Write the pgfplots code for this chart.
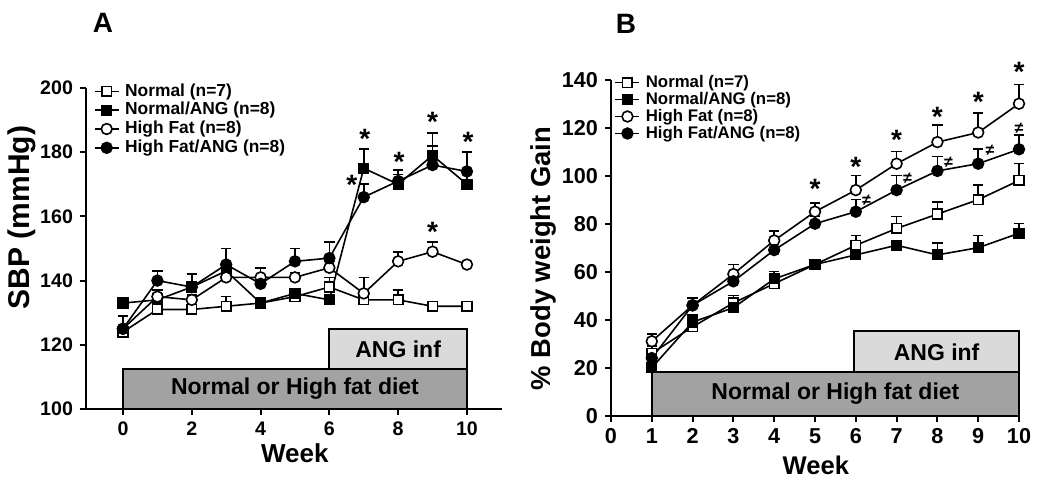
\documentclass[border=0pt]{standalone}
\usepackage{fontspec}
\setmainfont{Liberation Sans}
\usepackage{pgfplots}
\pgfplotsset{compat=1.18}

\definecolor{dietgray}{RGB}{162,162,162}
\definecolor{anggray}{RGB}{218,218,218}

\pgfplotsset{
  panel/.style={
    scale only axis, axis lines=left,
    axis line style={-, line width=1pt},
    tick style={line width=1pt, black}, tick align=outside,
    major tick length=3pt,
    /pgf/number format/assume math mode=true,
    every axis plot/.append style={black, line width=0.8pt},
    clip=false,
    legend cell align=left,
    legend style={draw=none, fill=none, inner sep=0pt, row sep=0pt,
      nodes={inner sep=0.8pt}},
    legend image code/.code={
      \draw[mark=none] (0pt,0pt) -- (12pt,0pt);
      \draw[only marks] plot coordinates {(6pt,0pt)};
      \path (14pt,0pt);},
    error bars/y dir=plus, error bars/y explicit,
    error bars/error bar style={line width=0.8pt, solid},
    error bars/error mark=-,
    error bars/error mark options={rotate=90, line width=0.8pt, mark size=2.6pt, solid},
  },
  nrm/.style={mark=square*, mark size=2.4pt, mark options={fill=white, solid}},
  nang/.style={mark=square*, mark size=2.4pt, mark options={fill=black, solid}},
  hf/.style={mark=*, mark size=2.7pt, mark options={fill=white, solid}},
  hfang/.style={mark=*, mark size=2.7pt, mark options={fill=black, solid}},
}
\tikzset{
  sig/.style={font=\bfseries\fontsize{14}{14}\selectfont, inner sep=0pt},
  neq/.style={font=\bfseries\fontsize{8}{8}\selectfont, inner sep=0pt},
  boxtxt/.style={font=\bfseries\fontsize{11.5}{12}\selectfont},
}

\begin{document}
\begin{tikzpicture}
\useasboundingbox (0,0) rectangle (525pt,241pt);

\node[font=\bfseries\fontsize{14}{14}\selectfont] at (51.5pt,229.5pt) {A};
\node[font=\bfseries\fontsize{14}{14}\selectfont] at (313pt,229pt) {B};

% ---- panel A: SBP
\begin{axis}[
  panel,
  at={(43pt,36.5pt)}, anchor=south west,
  width=208pt, height=160.5pt,
  xmin=-1.076, xmax=11.02, ymin=100, ymax=200,
  xtick={0,2,...,10}, ytick={100,120,...,200},
  tick label style={font=\bfseries\fontsize{9.8}{10}\selectfont},
  xlabel={Week}, ylabel={SBP (mmHg)},
  xlabel style={font=\bfseries\fontsize{13}{13}\selectfont,
    at={(axis description cs:0.502,-0.1375)}, anchor=center},
  ylabel style={font=\bfseries\fontsize{15}{15}\selectfont,
    at={(axis description cs:-0.154,0.597)}, anchor=center},
  legend style={at={(axis description cs:0.018,1.02)}, anchor=north west,
    font=\bfseries\fontsize{8.7}{10}\selectfont},
]
\draw[line width=1pt, fill=dietgray] (axis cs:0,100) rectangle (axis cs:10,112.5);
\draw[line width=1pt, fill=anggray] (axis cs:6,112.5) rectangle (axis cs:10,125);
\node[boxtxt] at (axis cs:5,106.25) {Normal or High fat diet};
\node[boxtxt] at (axis cs:8,118.75) {ANG inf};

\addplot[nrm, error bars/.cd, y dir=plus, y explicit] coordinates {
  (0,124) +- (0,1) (1,131) +- (0,2) (2,131) +- (0,1.5) (3,132) +- (0,3)
  (4,133) +- (0,1.5) (5,135) +- (0,1.5) (6,138) +- (0,3) (7,134) +- (0,2)
  (8,134) +- (0,3) (9,132) +- (0,1.5) (10,132) +- (0,1.5)};
\addlegendentry{Normal (n=7)}
\addplot[nang, error bars/.cd, y dir=plus, y explicit] coordinates {
  (0,133) +- (0,1) (1,134) +- (0,2) (2,138) +- (0,4) (3,143) +- (0,2)
  (4,133) +- (0,1.5) (5,136) +- (0,1) (6,134) +- (0,1) (7,175) +- (0,6)
  (8,170) +- (0,3) (9,179) +- (0,7) (10,170) +- (0,3)};
\addlegendentry{Normal/ANG (n=8)}
\addplot[hf, error bars/.cd, y dir=plus, y explicit] coordinates {
  (0,125) +- (0,1) (1,135) +- (0,2) (2,134) +- (0,1.5) (3,141) +- (0,2)
  (4,141) +- (0,3) (5,141) +- (0,1.5) (6,144) +- (0,2) (7,136) +- (0,5)
  (8,146) +- (0,3) (9,149) +- (0,3) (10,145) +- (0,1)};
\addlegendentry{High Fat (n=8)}
\addplot[hfang, error bars/.cd, y dir=plus, y explicit] coordinates {
  (0,125) +- (0,4) (1,140) +- (0,3) (2,138) +- (0,4) (3,145) +- (0,5)
  (4,139) +- (0,5) (5,146) +- (0,4) (6,147) +- (0,5) (7,166) +- (0,4)
  (8,171) +- (0,3.5) (9,176) +- (0,6) (10,174) +- (0,6)};
\addlegendentry{High Fat/ANG (n=8)}

\node[sig] at (axis cs:7.03,184.3) {*};
\node[sig] at (axis cs:6.65,169.7) {*};
\node[sig] at (axis cs:8.03,177) {*};
\node[sig] at (axis cs:9,189.3) {*};
\node[sig] at (axis cs:10.03,183.2) {*};
\node[sig] at (axis cs:9,155.1) {*};
\end{axis}

% ---- panel B: body weight gain
\begin{axis}[
  panel,
  at={(305.5pt,33.15pt)}, anchor=south west,
  width=204pt, height=168pt,
  xmin=0, xmax=10, ymin=0, ymax=140,
  xtick={0,1,...,10}, ytick={0,20,...,140},
  tick label style={font=\bfseries\fontsize{10.8}{11}\selectfont},
  xlabel={Week}, ylabel={\% Body weight Gain},
  xlabel style={font=\bfseries\fontsize{12.8}{13}\selectfont,
    at={(axis description cs:0.502,-0.147)}, anchor=center},
  ylabel style={font=\bfseries\fontsize{13.7}{14}\selectfont,
    at={(axis description cs:-0.1667,0.468)}, anchor=center},
  legend style={at={(axis description cs:0.008,1.02)}, anchor=north west,
    row sep=-0.7pt, font=\bfseries\fontsize{8.4}{10}\selectfont},
]
\draw[line width=1pt, fill=dietgray] (axis cs:1,0) rectangle (axis cs:10,18);
\draw[line width=1pt, fill=anggray] (axis cs:5.96,18) rectangle (axis cs:10,35.3);
\node[boxtxt] at (axis cs:5.5,9) {Normal or High fat diet};
\node[boxtxt] at (axis cs:7.98,26.6) {ANG inf};

\addplot[nrm, error bars/.cd, y dir=plus, y explicit] coordinates {
  (1,26) +- (0,3) (2,37) +- (0,3) (3,47) +- (0,3) (4,55) +- (0,3)
  (5,63) +- (0,2) (6,71) +- (0,4) (7,78) +- (0,5) (8,84) +- (0,5)
  (9,90) +- (0,6) (10,98) +- (0,7)};
\addlegendentry{Normal (n=7)}
\addplot[nang, error bars/.cd, y dir=plus, y explicit] coordinates {
  (1,20) +- (0,2) (2,39) +- (0,3) (3,45) +- (0,4) (4,57) +- (0,3)
  (5,63) +- (0,2) (6,67) +- (0,3) (7,71) +- (0,2) (8,67) +- (0,5)
  (9,70) +- (0,5) (10,76) +- (0,4)};
\addlegendentry{Normal/ANG (n=8)}
\addplot[hf, error bars/.cd, y dir=plus, y explicit] coordinates {
  (1,31) +- (0,3) (2,46) +- (0,3) (3,59) +- (0,4) (4,73) +- (0,4)
  (5,85) +- (0,3.5) (6,94) +- (0,6) (7,105) +- (0,5) (8,114) +- (0,7)
  (9,118) +- (0,8) (10,130) +- (0,8)};
\addlegendentry{High Fat (n=8)}
\addplot[hfang, error bars/.cd, y dir=plus, y explicit] coordinates {
  (1,24) +- (0,2) (2,46) +- (0,3) (3,56) +- (0,3) (4,69) +- (0,3)
  (5,80) +- (0,3) (6,85) +- (0,5) (7,94) +- (0,6) (8,102) +- (0,6)
  (9,105) +- (0,6) (10,111) +- (0,6)};
\addlegendentry{High Fat/ANG (n=8)}

\node[sig] at (axis cs:5,94.7) {*};
\node[sig] at (axis cs:6,103.8) {*};
\node[sig] at (axis cs:7,114.9) {*};
\node[sig] at (axis cs:8,124.6) {*};
\node[sig] at (axis cs:9,130.8) {*};
\node[sig] at (axis cs:10,143.3) {*};
\node[neq] at (axis cs:6.26,89.9) {≠};
\node[neq] at (axis cs:7.27,98.9) {≠};
\node[neq] at (axis cs:8.27,105.6) {≠};
\node[neq] at (axis cs:9.29,110.4) {≠};
\node[neq] at (axis cs:10,119.7) {≠};
\end{axis}
\end{tikzpicture}
\end{document}
